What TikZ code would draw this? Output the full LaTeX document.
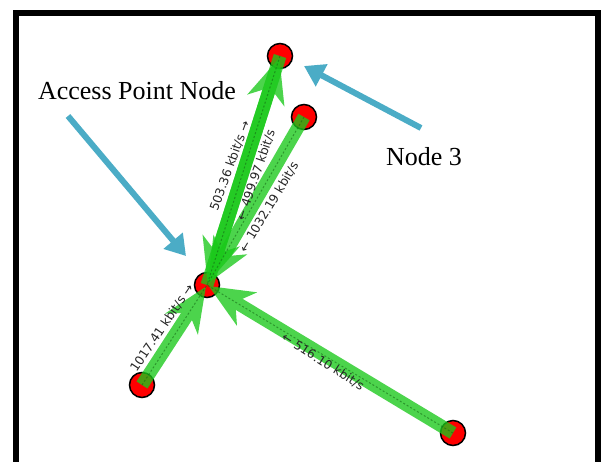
\documentclass[tikz,border=0pt]{standalone}
\usepackage{fontspec}
\setmainfont{Liberation Serif}
\newfontfamily\ratefont{DejaVu Sans}
\usetikzlibrary{arrows.meta}
\definecolor{linkgreen}{RGB}{25,200,25}
\definecolor{dotgreen}{RGB}{20,100,20}
\definecolor{callout}{RGB}{75,172,198}

\begin{document}
\begin{tikzpicture}[x=1pt,y=-1pt,
  station/.style={circle,draw=black,line width=1.5pt,fill=red,minimum size=25pt,inner sep=0pt},
  link/.style={draw=linkgreen,line width=13pt,shorten >=2pt,
    -{Stealth[length=44pt,width=38pt,inset=13pt]}},
  linkcore/.style={draw=dotgreen,line width=1pt,dash pattern=on 2pt off 2pt,opacity=0.55},
  rate/.style={font=\ratefont\fontsize{12.3}{14}\selectfont,text=black!85,inner sep=0pt},
  pointer/.style={draw=callout,line width=6pt,-{Triangle[length=20pt,width=24pt]}},
  caption/.style={font=\fontsize{26}{30}\selectfont,inner sep=0pt}
]
\useasboundingbox (0,0) rectangle (602,461);

% frame
\draw[line width=6pt] (15.5,480) -- (15.5,12.8) -- (598,12.8) -- (598,480);

% stations
\node[station] (n3) at (280,56) {};
\node[station] (nb) at (304,117) {};
\node[station] (ap) at (207,285) {};
\node[station] (nl) at (142,385) {};
\node[station] (nr) at (453,433) {};

% links
\begin{scope}[transparency group,opacity=0.78]
  \draw[link] (ap.center) -- (n3.center);
\end{scope}
\begin{scope}[transparency group,opacity=0.78]
  \draw[link] (n3.center) -- (ap.center);
\end{scope}
\begin{scope}[transparency group,opacity=0.78]
  \draw[link] (nb.center) -- (ap.center);
\end{scope}
\begin{scope}[transparency group,opacity=0.78]
  \draw[link] (nl.center) -- (ap.center);
\end{scope}
\begin{scope}[transparency group,opacity=0.78]
  \draw[link] (nr.center) -- (ap.center);
\end{scope}
\draw[linkcore] (n3.center) -- (ap.center);
\draw[linkcore] (nb.center) -- (ap.center);
\draw[linkcore] (nl.center) -- (ap.center);
\draw[linkcore] (nr.center) -- (ap.center);

% rate labels
\node[rate,rotate=70] (r1) at (230,166) {503.36 kbit/s →};
\node[rate,rotate=71] (r2) at (256,175) {← 499.97 kbit/s};
\node[rate,rotate=59] (r3) at (269,207) {← 1032.19 kbit/s};
\node[rate,rotate=56] (r4) at (162,328) {1017.41 kbit/s →};
\node[rate,rotate=-32.6] (r5) at (323,362) {← 516.10 kbit/s};

% callouts
\coordinate (apTail) at (68,116);
\coordinate (apHead) at (186,256);
\coordinate (n3Tail) at (421,128);
\coordinate (n3Head) at (304,66);
\draw[pointer] (apTail) -- (apHead);
\draw[pointer] (n3Tail) -- (n3Head);
\node[caption] (apText) at (137,91) {Access Point Node};
\node[caption] (n3Text) at (424,157) {Node 3};
\end{tikzpicture}
\end{document}
